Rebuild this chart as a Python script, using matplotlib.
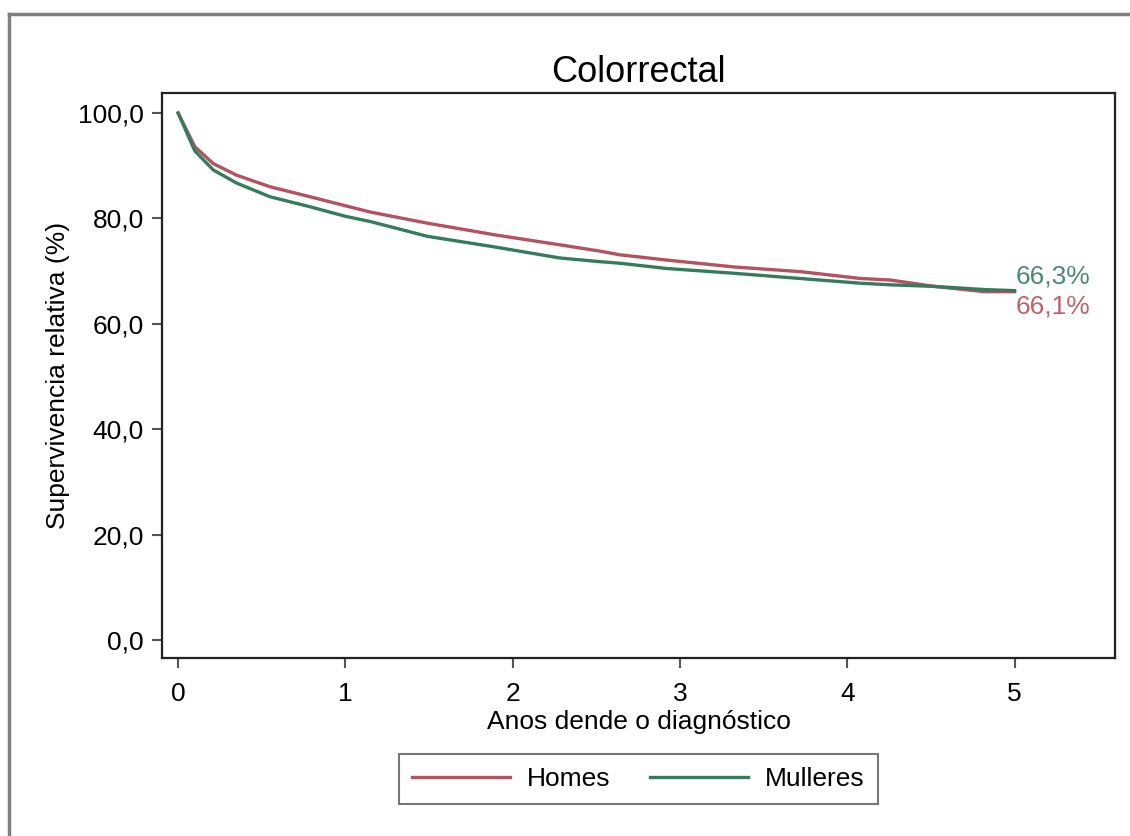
import matplotlib
matplotlib.use("Agg")
import matplotlib.pyplot as plt
from matplotlib.lines import Line2D

plt.rcParams['font.family'] = ['Liberation Sans', 'DejaVu Sans']

# anos dende o diagnostico
anos = [0, 0.10, 0.21, 0.35, 0.55, 0.79, 1.0, 1.15, 1.49, 1.89, 2.28, 2.52,
        2.64, 2.92, 3.32, 3.72, 4.08, 4.26, 4.52, 4.82, 5.0]
homes = [100, 93.6, 90.4, 88.2, 86.0, 84.1, 82.4, 81.2, 79.1, 76.9, 75.0, 73.8,
         73.1, 72.1, 70.8, 69.9, 68.6, 68.3, 67.1, 66.1, 66.1]
mulleres = [100, 92.8, 89.2, 86.7, 84.1, 82.2, 80.4, 79.4, 76.6, 74.6, 72.5, 71.8,
            71.5, 70.5, 69.6, 68.6, 67.7, 67.4, 67.1, 66.5, 66.3]
series = ['Homes', 'Mulleres']
final_labels = ['66,1%', '66,3%']
yticks = [0, 20, 40, 60, 80, 100]
xticks = [0, 1, 2, 3, 4, 5]

c_homes = '#b4525f'
c_mull = '#367c5c'

fig = plt.figure(figsize=(11.30, 8.36), dpi=100)
ax = fig.add_axes([0.1434, 0.2129, 0.8433, 0.6759])

ax.plot(anos, homes, color=c_homes, lw=2.4, label=series[0])
ax.plot(anos, mulleres, color=c_mull, lw=2.4, label=series[1])

ax.annotate(final_labels[1], (anos[-1], mulleres[-1]), xytext=(1, 10.5),
            textcoords='offset points', ha='left', va='center',
            fontsize=19, color='#4a8a70')
ax.annotate(final_labels[0], (anos[-1], homes[-1]), xytext=(1, -11),
            textcoords='offset points', ha='left', va='center',
            fontsize=19, color='#c0606b')

ax.set_xlim(-0.096, 5.6)
ax.set_ylim(-3.4, 103.8)
ax.set_yticks(yticks)
ax.set_yticklabels([('%.1f' % v).replace('.', ',') for v in yticks])
ax.set_xticks(xticks)
ax.tick_params(axis='both', labelsize=19, length=7, width=1.5, color='#555555')
ax.tick_params(axis='y', pad=6)
ax.tick_params(axis='x', pad=10)
for s in ax.spines.values():
    s.set_linewidth(1.6)
    s.set_color('#222222')

ax.set_title('Colorrectal', fontsize=26, pad=8)
ax.set_ylabel('Supervivencia relativa (%)', fontsize=19, labelpad=6)
ax.set_xlabel('Anos dende o diagnóstico', fontsize=19, labelpad=3)

leg = fig.legend(loc='center', bbox_to_anchor=(638.5 / 1130, 1 - 779 / 836),
                 ncol=2, fontsize=19, handlelength=3.7, handletextpad=0.65,
                 columnspacing=1.5, fancybox=False, borderpad=0.5)
leg.get_frame().set_edgecolor('#555555')
leg.get_frame().set_linewidth(1.5)

# marco gris exterior
fig.add_artist(Line2D([9 / 1130, 9 / 1130], [0, 1 - 14 / 836], color='#808080',
                      lw=2.5, transform=fig.transFigure))
fig.add_artist(Line2D([9 / 1130, 1], [1 - 14 / 836, 1 - 14 / 836], color='#808080',
                      lw=2.5, transform=fig.transFigure))

fig.savefig('out.png', dpi=100)
